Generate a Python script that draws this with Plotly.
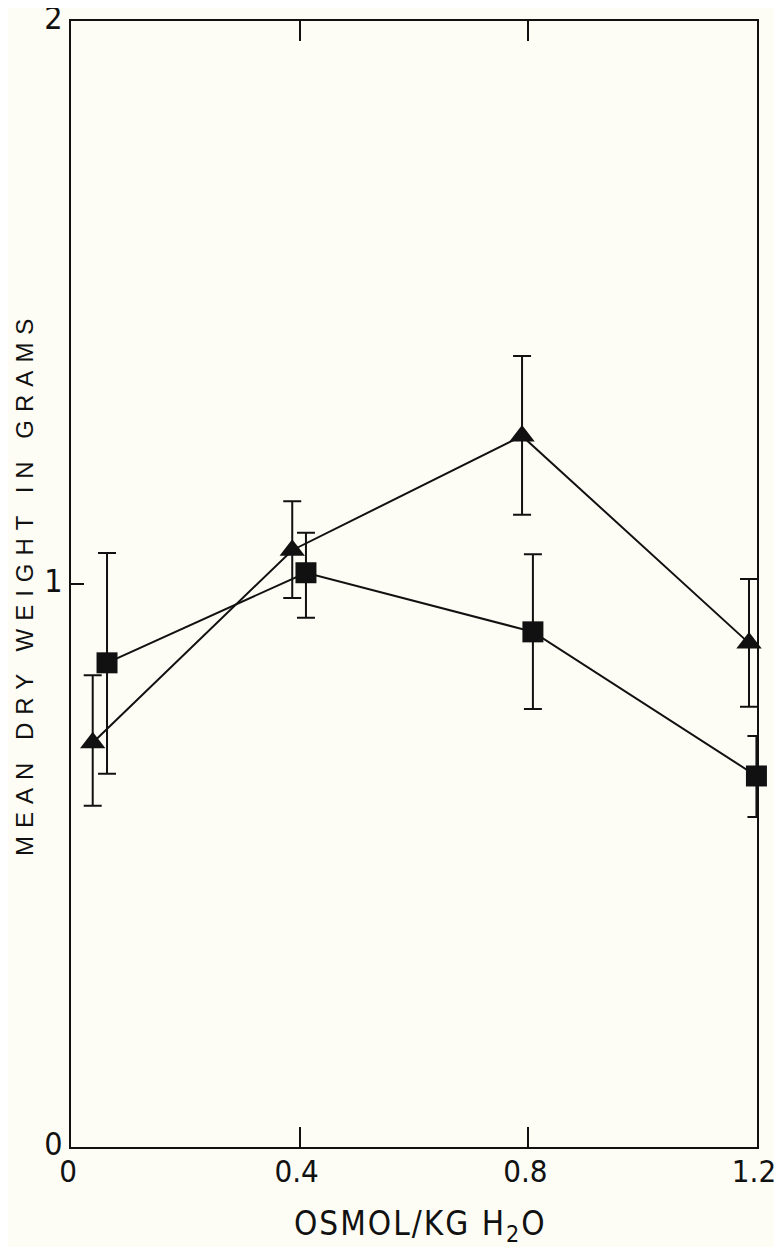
import plotly.graph_objects as go

# Series: triangles
tri_x = [0.038, 0.387, 0.789, 1.186]
tri_y = [0.718, 1.060, 1.263, 0.895]
tri_hi = [0.838, 1.147, 1.405, 1.009]
tri_lo = [0.606, 0.975, 1.123, 0.782]

# Series: squares
sq_x = [0.063, 0.411, 0.808, 1.199]
sq_y = [0.860, 1.020, 0.915, 0.659]
sq_hi = [1.055, 1.091, 1.053, 0.730]
sq_lo = [0.663, 0.940, 0.778, 0.586]

x_tickvals = [0, 0.4, 0.8, 1.2]
x_ticktext = ["0", "0.4", "0.8", "1.2"]
y_tickvals = [0, 1, 2]
y_ticktext = ["0", "1", "2"]

INK = "#111111"
BG = "#fdfdf5"
NARROW = "Liberation Sans Narrow, DejaVu Sans Condensed, Arial Narrow, sans-serif"
WIDE = "Liberation Sans, Arial, sans-serif"


def err(vals, hi, lo):
    return dict(type="data", symmetric=False,
                array=[h - v for h, v in zip(hi, vals)],
                arrayminus=[v - l for v, l in zip(vals, lo)],
                color=INK, thickness=2, width=9)


fig = go.Figure()
fig.add_trace(go.Scatter(
    x=tri_x, y=tri_y, mode="lines+markers",
    line=dict(color=INK, width=2),
    marker=dict(symbol="triangle-up", size=22, color=INK),
    error_y=err(tri_y, tri_hi, tri_lo),
    cliponaxis=False, showlegend=False))
fig.add_trace(go.Scatter(
    x=sq_x, y=sq_y, mode="lines+markers",
    line=dict(color=INK, width=2),
    marker=dict(symbol="square", size=21, color=INK),
    error_y=err(sq_y, sq_hi, sq_lo),
    cliponaxis=False, showlegend=False))

fig.update_layout(
    width=774, height=1239, autosize=False,
    margin=dict(l=63, r=25, t=13, b=100),
    paper_bgcolor=BG, plot_bgcolor=BG,
    font=dict(family=NARROW, color=INK),
    xaxis=dict(range=[0, 1.2], tickvals=x_tickvals, ticktext=x_ticktext,
               ticks="inside", ticklen=20, tickwidth=2, tickcolor=INK,
               showline=True, linecolor=INK, linewidth=2, mirror="ticks",
               showgrid=False, zeroline=False, ticklabelstandoff=-4,
               ticklabelshift=-3,
               ticklabeloverflow="allow", automargin=False,
               tickfont=dict(size=31, family=NARROW, color=INK)),
    yaxis=dict(range=[0, 2], tickvals=y_tickvals, ticktext=y_ticktext,
               ticks="inside", ticklen=13, tickwidth=2, tickcolor=INK,
               showline=True, linecolor=INK, linewidth=2, mirror=True,
               showgrid=False, zeroline=False, ticklabeloverflow="allow",
               ticklabelshift=-3, automargin=False,
               tickfont=dict(size=32, family=NARROW, color=INK)),
    annotations=[
        dict(text='<span style="letter-spacing:8px">MEAN DRY WEIGHT IN GRAMS</span>',
             xref="paper", yref="paper",
             x=0, y=0.5, xanchor="center", yanchor="middle", xshift=-47,
             textangle=-90, showarrow=False,
             font=dict(size=24, family=WIDE, color=INK)),
        dict(text='<span style="letter-spacing:2px">OSMOL/KG H<sub>2</sub>O</span>',
             xref="paper", yref="paper",
             x=0.509, y=0, xanchor="center", yanchor="middle", yshift=-78,
             showarrow=False,
             font=dict(size=33, family=NARROW, color=INK)),
    ],
)

fig.write_html("out.html")
